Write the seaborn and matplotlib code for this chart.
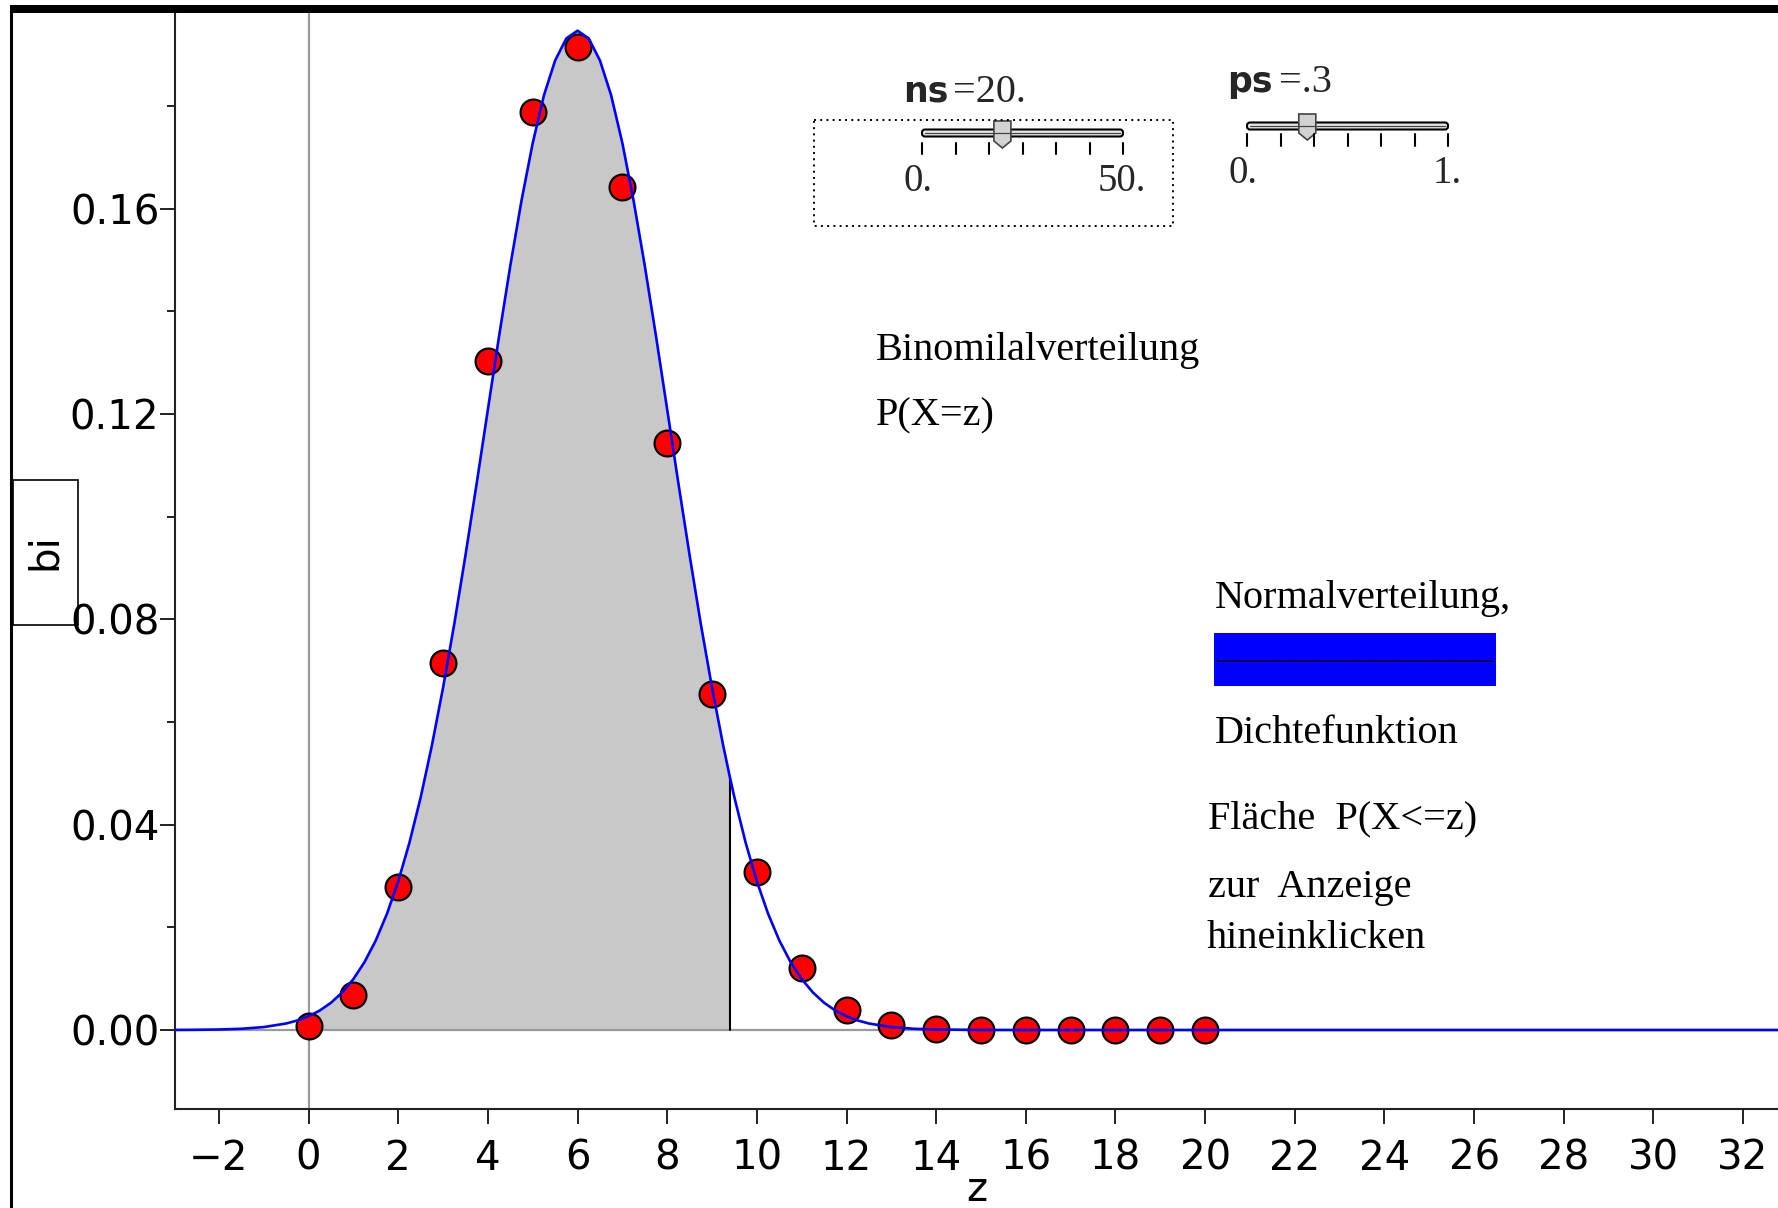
import numpy as np
import pandas as pd
import matplotlib
matplotlib.use("Agg")
import matplotlib.pyplot as plt
import seaborn as sns
from matplotlib.patches import Rectangle, Polygon, FancyBboxPatch
from matplotlib.ticker import MultipleLocator, FormatStrFormatter

# ---------------- data ----------------
z_values = list(range(21))
bi_values = [0.0008, 0.0068, 0.0278, 0.0716, 0.1304, 0.1789, 0.1916, 0.1643,
             0.1144, 0.0654, 0.0308, 0.0120, 0.0039, 0.0010, 0.0002, 0.0000,
             0.0000, 0.0000, 0.0000, 0.0000, 0.0000]

# normal density curve (read at a set of z positions)
curve_z = [-3.0, -2.5, -2.0, -1.5, -1.0, -0.5, -0.25, 0.0, 0.25, 0.5, 0.75,
           1.0, 1.25, 1.5, 1.75, 2.0, 2.25, 2.5, 2.75, 3.0, 3.25, 3.5, 3.75,
           4.0, 4.25, 4.5, 4.75, 5.0, 5.25, 5.5, 5.75, 6.0, 6.25, 6.5, 6.75,
           7.0, 7.25, 7.5, 7.75, 8.0, 8.25, 8.5, 8.75, 9.0, 9.25, 9.4, 9.5,
           9.75, 10.0, 10.25, 10.5, 10.75, 11.0, 11.25, 11.5, 11.75, 12.0,
           12.25, 12.5, 13.0, 13.5, 14.0, 15.0, 16.0, 20.0, 33.0]
curve_density = [0.00001, 0.00004, 0.0001, 0.00024, 0.00057, 0.00127, 0.00186,
                 0.00268, 0.0038, 0.00531, 0.00732, 0.00993, 0.01327, 0.01747,
                 0.02267, 0.02898, 0.0365, 0.0453, 0.0554, 0.0667, 0.0791,
                 0.0925, 0.1065, 0.1209, 0.1352, 0.1489, 0.1616, 0.1728,
                 0.1821, 0.1889, 0.1932, 0.1947, 0.1932, 0.1889, 0.1821,
                 0.1728, 0.1616, 0.1489, 0.1352, 0.1209, 0.1065, 0.0925,
                 0.0791, 0.0667, 0.0554, 0.0492, 0.0453, 0.0365, 0.02898,
                 0.02267, 0.01747, 0.01327, 0.00993, 0.00732, 0.00531, 0.0038,
                 0.00268, 0.00186, 0.00127, 0.00057, 0.00024, 0.0001, 0.00001,
                 0.0, 0.0, 0.0]

fill_end = 9.4          # shaded area P(X<=z) from 0 up to this z
x_ticks = list(range(-2, 33, 2))
y_ticks = [0.00, 0.04, 0.08, 0.12, 0.16]

ns_value, ns_min, ns_max = 20, 0, 50
ps_value, ps_min, ps_max = 0.3, 0, 1
ns_text, ps_text = "=20.", "=.3"
ns_min_label, ns_max_label = "0.", "50."
ps_min_label, ps_max_label = "0.", "1."

annotations = [
    ("Binomilalverteilung", 876, 360),
    ("P(X=z)", 876, 425),
    ("Normalverteilung,", 1215, 608),
    ("Dichtefunktion", 1215, 743),
    ("Fläche  P(X<=z)", 1208, 828),
    ("zur  Anzeige", 1208, 897),
    ("hineinklicken", 1207, 948),
]

# ---------------- figure ----------------
sns.set_theme(style="white")
plt.rcParams['font.family'] = ['DejaVu Sans']

W, H = 1778, 1208
fig = plt.figure(figsize=(W / 100, H / 100), dpi=100)
fig.patch.set_facecolor('white')

ax_left, ax_right, ax_top, ax_bottom = 175, W, 13, 1109
ax = fig.add_axes([ax_left / W, 1 - ax_bottom / H,
                   (ax_right - ax_left) / W, (ax_bottom - ax_top) / H])
ax.set_facecolor('none')

pts = pd.DataFrame({"z": z_values, "bi": bi_values})
curve = pd.DataFrame({"z": curve_z, "bi": curve_density})

# shaded area
mask = (curve["z"] >= 0) & (curve["z"] <= fill_end)
ax.fill_between(curve["z"][mask], 0, curve["bi"][mask],
                color='#c8c8c8', lw=0, zorder=1)
end_height = float(curve.loc[curve["z"] == fill_end, "bi"].iloc[0])
ax.plot([fill_end, fill_end], [0, end_height], color='black', lw=1.5, zorder=2)

# origin lines
ax.axhline(0, color='#9a9a9a', lw=1.6, zorder=1.5)
ax.axvline(0, color='#9a9a9a', lw=1.6, zorder=1.5)

sns.scatterplot(data=pts, x="z", y="bi", s=345, color='#ff0000',
                edgecolor='black', linewidth=1.6, ax=ax, zorder=3)
sns.lineplot(data=curve, x="z", y="bi", sort=False, estimator=None,
             color='#0000ff', lw=1.9, ax=ax, zorder=4)

ax.set_xlim(-2.98, 32.78)
ax.set_ylim(-0.01539, 0.19815)

ax.set_xticks(x_ticks)
ax.set_yticks(y_ticks)
ax.yaxis.set_minor_locator(MultipleLocator(0.02))
ax.yaxis.set_major_formatter(FormatStrFormatter('%.2f'))
ax.tick_params(axis='both', which='major', direction='out', length=10.8,
               width=1.4, color='#222222', labelsize=29, labelcolor='black',
               bottom=True, left=True)
ax.tick_params(axis='x', which='major', pad=10.5)
ax.tick_params(axis='y', which='major', pad=0.5)
ax.tick_params(axis='y', which='minor', direction='out', length=5.8,
               width=1.4, color='#222222', left=True)

for s in ['top', 'right']:
    ax.spines[s].set_visible(False)
for s in ['left', 'bottom']:
    ax.spines[s].set_color('#222222')
    ax.spines[s].set_linewidth(1.5)

ax.set_xlabel("z", fontsize=29, color='black')
ax.xaxis.label.set_va('baseline')
ax.xaxis.set_label_coords(0.5, (ax_bottom - 1201) / (ax_bottom - ax_top))
ax.set_ylabel("bi", fontsize=29, color='black')
ax.yaxis.label.set_va('center')
ax.yaxis.set_label_coords((45 - ax_left) / (ax_right - ax_left),
                          (ax_bottom - 552) / (ax_bottom - ax_top))

# ---------------- overlay in pixel coordinates ----------------
ov = fig.add_axes([0, 0, 1, 1])
ov.set_xlim(0, W)
ov.set_ylim(H, 0)
ov.axis('off')
ov.patch.set_alpha(0)

# window frame
ov.add_patch(Rectangle((10, 5), W - 10, 8, color='black', lw=0))
ov.plot([11, 11], [5, H], color='black', lw=2.2, solid_capstyle='butt')

# y-label box
ov.add_patch(Rectangle((12.5, 480), 65.5, 145, fill=False, ec='black', lw=1.2))

serif = 'Liberation Serif'
for txt, x, y in annotations:
    ov.text(x, y, txt, ha='left', va='baseline', family=serif, fontsize=29,
            color='black')

# blue legend swatch with underscores
ov.add_patch(Rectangle((1214, 633), 282, 53, color='#0000ff', lw=0))
ov.text(1216, 657, "_" * 14, ha='left', va='baseline', family=serif,
        fontsize=28.4, color='black')


def slider(x0, x1, yt, tick_top, tick_bot, frac, th_top, th_bot, tip,
           lab_base, lab_min, lab_max, name, name_x, val_text, val_x, name_base):
    ov.add_patch(FancyBboxPatch((x0, yt - 3.5), x1 - x0, 7,
                                boxstyle="round,pad=0,rounding_size=3",
                                fc='#e6e6e6', ec='black', lw=1.5))
    ov.plot([x0 + 3, x1 - 3], [yt, yt], color='#444444', lw=0.9)
    for tx in np.linspace(x0, x1, 7):
        ov.plot([tx, tx], [tick_top, tick_bot], color='black', lw=1.5)
    cx = x0 + frac * (x1 - x0)
    hw = 8.5
    ov.add_patch(Polygon([(cx - hw, th_top), (cx + hw, th_top),
                          (cx + hw, th_bot), (cx, tip), (cx - hw, th_bot)],
                         closed=True, fc='#d2d2d2', ec='#444444', lw=1.2))
    ov.text(x0 - 4, lab_base, lab_min, ha='center', va='baseline',
            family=serif, fontsize=28)
    ov.text(x1 - 1, lab_base, lab_max, ha='center', va='baseline',
            family=serif, fontsize=28)
    ov.text(name_x, name_base, name, ha='left', va='baseline',
            family='DejaVu Sans', fontweight='bold', fontsize=25)
    ov.text(val_x, name_base, val_text, ha='left', va='baseline',
            family=serif, fontsize=29)


slider(922, 1123, 133, 143, 154, (ns_value - ns_min) / (ns_max - ns_min),
       121, 141, 148, 191, ns_min_label, ns_max_label, "ns", 903, ns_text,
       953, 102)
slider(1247, 1448, 126, 134, 146, (ps_value - ps_min) / (ps_max - ps_min),
       114, 133, 140, 183, ps_min_label, ps_max_label, "ps", 1227, ps_text,
       1279, 92)

# dotted selection frame around ns slider
ov.add_patch(Rectangle((814, 120), 359, 106, fill=False, ec='black', lw=1.4,
                       ls=(0, (1, 2.2))))

fig.savefig("out.png", dpi=100, facecolor='white')
